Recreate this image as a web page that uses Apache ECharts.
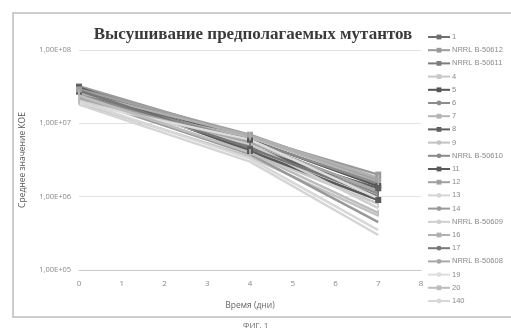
<!DOCTYPE html>
<html>
<head>
<meta charset="utf-8">
<script src="https://cdn.jsdelivr.net/npm/echarts@6/dist/echarts.min.js"></script>
<style>
html, body { margin: 0; padding: 0; background: #fff; }
#chart { width: 511px; height: 331px; }
</style>
</head>
<body>
<div id="chart"></div>
<script>
// дни измерения
const days = [0, 4, 7];
// названия мутантов (легенда)
const seriesNames = ['1', 'NRRL B-50612', 'NRRL B-50611', '4', '5', '6', '7', '8', '9',
    'NRRL B-50610', '11', '12', '13', '14', 'NRRL B-50609', '16', '17', 'NRRL B-50608',
    '19', '20', '140'];
// КОЕ по дням, по порядку серий
const day0 = [2.8e7, 3.2e7, 2.6e7, 2.2e7, 3.0e7, 2.5e7, 2.0e7, 2.7e7, 1.9e7, 2.4e7, 3.1e7,
    2.9e7, 1.8e7, 2.3e7, 2.1e7, 2.6e7, 2.8e7, 2.2e7, 1.9e7, 2.4e7, 2.0e7];
const day4 = [5.5e6, 6.5e6, 4.8e6, 4.0e6, 6.0e6, 5.0e6, 6.5e6, 4.5e6, 3.5e6, 5.8e6, 4.2e6,
    7.0e6, 3.0e6, 3.8e6, 5.2e6, 6.8e6, 4.6e6, 5.5e6, 6.0e6, 4.0e6, 3.3e6];
const day7 = [1.2e6, 2.0e6, 1.0e6, 8.0e5, 1.4e6, 1.1e6, 1.6e6, 1.3e6, 5.5e5, 1.5e6, 9.0e5,
    1.7e6, 3.0e5, 4.5e5, 7.0e5, 1.8e6, 1.0e6, 1.2e6, 9.5e5, 6.0e5, 3.5e5];
const yTicks = [1e5, 1e6, 1e7, 1e8];

// оттенки серого и маркеры
const grays = ['#6f6f6f', '#9a9a9a', '#7d7d7d', '#c8c8c8', '#555555', '#8c8c8c', '#b5b5b5',
    '#606060', '#c2c2c2', '#8a8a8a', '#5a5a5a', '#a0a0a0', '#d5d5d5', '#999999', '#cfcfcf',
    '#b0b0b0', '#777777', '#a8a8a8', '#dddddd', '#bdbdbd', '#d8d8d8'];
const marks = ['line', 'rect', 'line', 'line', 'rect', 'none', 'line', 'rect', 'none', 'none',
    'rect', 'rect', 'none', 'none', 'none', 'line', 'none', 'none', 'none', 'line', 'none'];

let myChart = echarts.init(document.getElementById('chart'));

let series = seriesNames.map((name, i) => {
    let sym = marks[i];
    return {
        name: name,
        type: 'line',
        data: days.map((d, k) => [d, [day0[i], day4[i], day7[i]][k]]),
        symbol: sym === 'line' ? 'path://M0,0 L1,0 L1,6 L0,6 Z' : (sym === 'rect' ? 'rect' : 'none'),
        symbolSize: sym === 'line' ? [1.5, 7] : 6,
        showSymbol: sym !== 'none',
        lineStyle: { color: grays[i], width: 2.5 },
        itemStyle: { color: grays[i] },
        emphasis: { disabled: true }
    };
});

let options = {
    animation: false,
    title: {
        text: 'Высушивание предполагаемых мутантов',
        left: 248,
        top: 21,
        textAlign: 'center',
        textStyle: {
            fontFamily: 'Liberation Serif',
            fontWeight: 'bold',
            fontSize: 17,
            color: '#3a3a3a'
        }
    },
    legend: {
        orient: 'vertical',
        left: 427,
        top: 33,
        padding: 0,
        itemWidth: 22,
        itemHeight: 6,
        itemGap: 5.2,
        textStyle: {
            fontSize: 7.5,
            lineHeight: 8,
            color: '#8a8a8a',
            fontFamily: 'Liberation Sans',
            padding: [0, 0, 0, -3]
        },
        data: seriesNames
    },
    grid: {
        left: 79,
        right: 90,
        top: 50,
        bottom: 61
    },
    xAxis: {
        type: 'value',
        min: 0,
        max: 8,
        interval: 1,
        name: 'Время (дни)',
        nameLocation: 'middle',
        nameGap: 31,
        nameTextStyle: { fontSize: 8.5, color: '#666', fontFamily: 'Open Sans' },
        axisLine: { lineStyle: { color: '#c8c8c8' } },
        axisTick: { show: false },
        axisLabel: { fontSize: 8, color: '#888', margin: 10, fontFamily: 'Open Sans' },
        splitLine: { show: false }
    },
    yAxis: {
        type: 'log',
        logBase: 10,
        min: yTicks[0],
        max: yTicks[yTicks.length - 1],
        name: 'Среднее значение КОЕ',
        nameLocation: 'middle',
        nameGap: 52,
        nameTextStyle: { fontSize: 8.5, color: '#555', fontFamily: 'Open Sans' },
        axisLine: { show: false },
        axisTick: { show: false },
        axisLabel: {
            fontSize: 7.5,
            color: '#888',
            margin: 8,
            fontFamily: 'Open Sans',
            formatter: function(value) {
                let e = Math.round(Math.log10(value));
                return '1,00E+' + (e < 10 ? '0' : '') + e;
            }
        },
        splitLine: { lineStyle: { color: '#e2e2e2', width: 1 } }
    },
    graphic: [
        {
            type: 'rect',
            shape: { x: 13, y: 13, width: 520, height: 304 },
            style: { fill: 'none', stroke: '#bdbdbd', lineWidth: 1.5 },
            silent: true
        },
        {
            type: 'text',
            left: 243,
            top: 322,
            style: { text: 'ФИГ. 1', fontSize: 8, fill: '#666', fontFamily: 'Open Sans' }
        }
    ],
    series: series
};
myChart.setOption(options);
</script>
</body>
</html>
